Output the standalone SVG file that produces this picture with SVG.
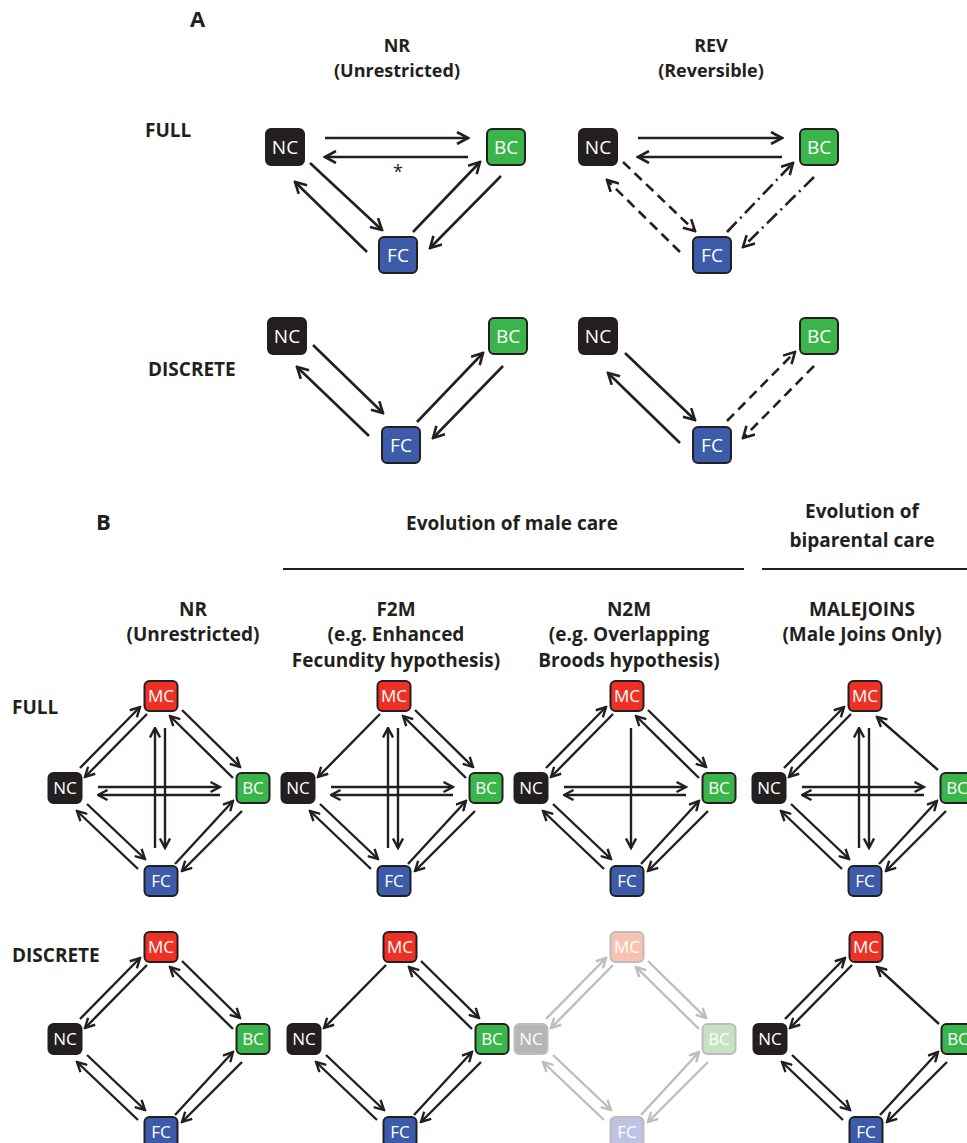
<svg xmlns="http://www.w3.org/2000/svg" width="967" height="1143" viewBox="0 0 967 1143">
<style>
.t{font-family:"Open Sans","Liberation Sans",sans-serif;font-weight:bold;font-size:19px;fill:#231f20}
.ta{font-size:18px}
.tc{text-anchor:middle}
.lbl{font-family:"Open Sans","Liberation Sans",sans-serif;fill:#fff;text-anchor:middle}
.la{font-size:19px}
.lb{font-size:17px}
.box{stroke:#231f20;stroke-width:2}
.fade{stroke:#bdbdbd;stroke-width:2}
.nc{fill:#231f20}.bc{fill:#3ab54a}.fc{fill:#3c5ba9}.mc{fill:#ee3124}
.ncf{fill:#b5b5b5}.bcf{fill:#c6e2c0}.fcf{fill:#bec3e4}.mcf{fill:#f8c2b0}
.ea{stroke:#231f20;stroke-width:2.6;fill:none;marker-end:url(#ahA)}
.eb{stroke:#231f20;stroke-width:2.4;fill:none;marker-end:url(#ahB)}
.eg{stroke:#bdbdbd;stroke-width:2.4;fill:none;marker-end:url(#ahG)}
.dash{stroke-dasharray:10 6}
.dd{stroke-dasharray:14 5 2 5}
.rule{stroke:#231f20;stroke-width:2}
</style>
<defs>
<marker id="ahA" viewBox="0 0 14 14" refX="12" refY="7" markerWidth="14" markerHeight="14" markerUnits="userSpaceOnUse" orient="auto"><path d="M1,1 L12,7 L1,13" fill="none" stroke="#231f20" stroke-width="2.6"/></marker>
<marker id="ahB" viewBox="0 0 12 12" refX="10.5" refY="6" markerWidth="12" markerHeight="12" markerUnits="userSpaceOnUse" orient="auto"><path d="M1,1 L10.5,6 L1,11" fill="none" stroke="#231f20" stroke-width="2.4"/></marker>
<marker id="ahG" viewBox="0 0 12 12" refX="10.5" refY="6" markerWidth="12" markerHeight="12" markerUnits="userSpaceOnUse" orient="auto"><path d="M1,1 L10.5,6 L1,11" fill="none" stroke="#bdbdbd" stroke-width="2.4"/></marker>
</defs>
<rect width="967" height="1143" fill="#fff"/>

<!-- Panel A labels -->
<text class="t" x="190" y="27" style="font-size:22px">A</text>
<text class="t ta tc" x="397" y="52">NR</text>
<text class="t ta tc" x="397" y="77">(Unrestricted)</text>
<text class="t ta tc" x="711" y="52">REV</text>
<text class="t ta tc" x="711" y="77">(Reversible)</text>
<text class="t" x="145" y="137">FULL</text>
<text class="t" x="148" y="376">DISCRETE</text>

<!-- Panel A connectors -->
<g id="A-connectors">
<line class="ea" x1="325" y1="138" x2="468" y2="138"/>
<line class="ea" x1="468" y1="157" x2="325" y2="157"/>
<line class="ea" x1="310" y1="163" x2="382" y2="230"/>
<line class="ea" x1="367" y1="252" x2="295" y2="182"/>
<line class="ea" x1="413" y1="232" x2="480" y2="162"/>
<line class="ea" x1="501" y1="176" x2="430" y2="248"/>

<line class="ea" x1="638" y1="138" x2="782" y2="138"/>
<line class="ea" x1="782" y1="157" x2="638" y2="157"/>
<line class="ea dash" x1="623" y1="162" x2="695" y2="231"/>
<line class="ea dash" x1="680" y1="252" x2="607" y2="180"/>
<line class="ea dd" x1="727" y1="232" x2="793" y2="163"/>
<line class="ea dd" x1="814" y1="177" x2="743" y2="247"/>

<line class="ea" x1="313" y1="345" x2="383" y2="413"/>
<line class="ea" x1="369" y1="436" x2="297" y2="367"/>
<line class="ea" x1="417" y1="422" x2="483" y2="353"/>
<line class="ea" x1="503" y1="366" x2="433" y2="438"/>

<line class="ea" x1="625" y1="353" x2="695" y2="420"/>
<line class="ea" x1="680" y1="443" x2="608" y2="373"/>
<line class="ea dash" x1="727" y1="421" x2="795" y2="352"/>
<line class="ea dash" x1="814" y1="366" x2="743" y2="438"/>
</g>
<text class="t tc" x="398" y="178" style="font-weight:normal;font-size:18px">*</text>

<!-- Panel A nodes -->
<g id="A-NR-full-NC"><rect class="box nc" x="266" y="129" width="38" height="36" rx="5"/><text class="lbl la" x="285" y="154">NC</text></g>
<g id="A-NR-full-BC"><rect class="box bc" x="487" y="129" width="38" height="36" rx="5"/><text class="lbl la" x="506" y="154">BC</text></g>
<g id="A-NR-full-FC"><rect class="box fc" x="379" y="237" width="38" height="36" rx="5"/><text class="lbl la" x="398" y="262">FC</text></g>
<g id="A-REV-full-NC"><rect class="box nc" x="579" y="129" width="38" height="36" rx="5"/><text class="lbl la" x="598" y="154">NC</text></g>
<g id="A-REV-full-BC"><rect class="box bc" x="800" y="129" width="38" height="36" rx="5"/><text class="lbl la" x="819" y="154">BC</text></g>
<g id="A-REV-full-FC"><rect class="box fc" x="693" y="237" width="38" height="36" rx="5"/><text class="lbl la" x="712" y="262">FC</text></g>
<g id="A-NR-disc-NC"><rect class="box nc" x="268" y="318" width="38" height="36" rx="5"/><text class="lbl la" x="287" y="343">NC</text></g>
<g id="A-NR-disc-BC"><rect class="box bc" x="489" y="318" width="38" height="36" rx="5"/><text class="lbl la" x="508" y="343">BC</text></g>
<g id="A-NR-disc-FC"><rect class="box fc" x="382" y="427" width="38" height="36" rx="5"/><text class="lbl la" x="401" y="452">FC</text></g>
<g id="A-REV-disc-NC"><rect class="box nc" x="579" y="318" width="38" height="36" rx="5"/><text class="lbl la" x="598" y="343">NC</text></g>
<g id="A-REV-disc-BC"><rect class="box bc" x="800" y="318" width="38" height="36" rx="5"/><text class="lbl la" x="819" y="343">BC</text></g>
<g id="A-REV-disc-FC"><rect class="box fc" x="693" y="427" width="38" height="36" rx="5"/><text class="lbl la" x="712" y="452">FC</text></g>

<!-- Panel B labels -->
<text class="t" x="96" y="530" style="font-size:22px">B</text>
<text class="t tc" x="512" y="530">Evolution of male care</text>
<line class="rule" x1="283" y1="569" x2="744" y2="569"/>
<text class="t tc" x="862" y="518">Evolution of</text>
<text class="t tc" x="862" y="547">biparental care</text>
<line class="rule" x1="762" y1="569" x2="967" y2="569"/>
<text class="t tc" x="193" y="616">NR</text>
<text class="t tc" x="193" y="641">(Unrestricted)</text>
<text class="t tc" x="396" y="616">F2M</text>
<text class="t tc" x="396" y="641">(e.g. Enhanced</text>
<text class="t tc" x="396" y="667">Fecundity hypothesis)</text>
<text class="t tc" x="629" y="616">N2M</text>
<text class="t tc" x="629" y="641">(e.g. Overlapping</text>
<text class="t tc" x="629" y="667">Broods hypothesis)</text>
<text class="t tc" x="862" y="616">MALEJOINS</text>
<text class="t tc" x="862" y="641">(Male Joins Only)</text>
<text class="t" x="12" y="714">FULL</text>
<text class="t" x="12" y="962">DISCRETE</text>

<!-- B full NR -->
<g transform="translate(161,696)">
<g id="B-NR-full-connectors">
<line class="eb" x1="-81" y1="72" x2="-21" y2="11"/>
<line class="eb" x1="-14" y1="18" x2="-76" y2="81"/>
<line class="eb" x1="21" y1="14" x2="79" y2="71"/>
<line class="eb" x1="72" y1="82" x2="9" y2="20"/>
<line class="eb" x1="-63" y1="91" x2="59" y2="91"/>
<line class="eb" x1="59" y1="99" x2="-63" y2="99"/>
<line class="eb" x1="4" y1="32" x2="4" y2="152"/>
<line class="eb" x1="-6" y1="152" x2="-6" y2="32"/>
<line class="eb" x1="-74" y1="108" x2="-16" y2="163"/>
<line class="eb" x1="-23" y1="173" x2="-84" y2="115"/>
<line class="eb" x1="14" y1="168" x2="72" y2="105"/>
<line class="eb" x1="81" y1="115" x2="21" y2="175"/>
</g>
<g id="B-NR-full-MC"><rect class="box mc" x="-16.5" y="-15" width="33" height="30" rx="5"/><text class="lbl lb" x="0" y="6">MC</text></g>
<g id="B-NR-full-NC"><rect class="box nc" x="-112.5" y="77" width="33" height="30" rx="5"/><text class="lbl lb" x="-96" y="98">NC</text></g>
<g id="B-NR-full-BC"><rect class="box bc" x="75.5" y="77" width="33" height="30" rx="5"/><text class="lbl lb" x="92" y="98">BC</text></g>
<g id="B-NR-full-FC"><rect class="box fc" x="-16.5" y="170" width="33" height="30" rx="5"/><text class="lbl lb" x="0" y="191">FC</text></g>
</g>

<!-- B full F2M -->
<g transform="translate(394,696)">
<g id="B-F2M-full-connectors">
<line class="eb" x1="-14" y1="18" x2="-76" y2="81"/>
<line class="eb" x1="21" y1="14" x2="79" y2="71"/>
<line class="eb" x1="72" y1="82" x2="9" y2="20"/>
<line class="eb" x1="-63" y1="91" x2="59" y2="91"/>
<line class="eb" x1="59" y1="99" x2="-63" y2="99"/>
<line class="eb" x1="4" y1="32" x2="4" y2="152"/>
<line class="eb" x1="-6" y1="152" x2="-6" y2="32"/>
<line class="eb" x1="-74" y1="108" x2="-16" y2="163"/>
<line class="eb" x1="-23" y1="173" x2="-84" y2="115"/>
<line class="eb" x1="14" y1="168" x2="72" y2="105"/>
<line class="eb" x1="81" y1="115" x2="21" y2="175"/>
</g>
<g id="B-F2M-full-MC"><rect class="box mc" x="-16.5" y="-15" width="33" height="30" rx="5"/><text class="lbl lb" x="0" y="6">MC</text></g>
<g id="B-F2M-full-NC"><rect class="box nc" x="-112.5" y="77" width="33" height="30" rx="5"/><text class="lbl lb" x="-96" y="98">NC</text></g>
<g id="B-F2M-full-BC"><rect class="box bc" x="75.5" y="77" width="33" height="30" rx="5"/><text class="lbl lb" x="92" y="98">BC</text></g>
<g id="B-F2M-full-FC"><rect class="box fc" x="-16.5" y="170" width="33" height="30" rx="5"/><text class="lbl lb" x="0" y="191">FC</text></g>
</g>

<!-- B full N2M -->
<g transform="translate(627,696)">
<g id="B-N2M-full-connectors">
<line class="eb" x1="-81" y1="72" x2="-21" y2="11"/>
<line class="eb" x1="-14" y1="18" x2="-76" y2="81"/>
<line class="eb" x1="21" y1="14" x2="79" y2="71"/>
<line class="eb" x1="72" y1="82" x2="9" y2="20"/>
<line class="eb" x1="-63" y1="91" x2="59" y2="91"/>
<line class="eb" x1="59" y1="99" x2="-63" y2="99"/>
<line class="eb" x1="4" y1="32" x2="4" y2="152"/>
<line class="eb" x1="-74" y1="108" x2="-16" y2="163"/>
<line class="eb" x1="-23" y1="173" x2="-84" y2="115"/>
<line class="eb" x1="14" y1="168" x2="72" y2="105"/>
<line class="eb" x1="81" y1="115" x2="21" y2="175"/>
</g>
<g id="B-N2M-full-MC"><rect class="box mc" x="-16.5" y="-15" width="33" height="30" rx="5"/><text class="lbl lb" x="0" y="6">MC</text></g>
<g id="B-N2M-full-NC"><rect class="box nc" x="-112.5" y="77" width="33" height="30" rx="5"/><text class="lbl lb" x="-96" y="98">NC</text></g>
<g id="B-N2M-full-BC"><rect class="box bc" x="75.5" y="77" width="33" height="30" rx="5"/><text class="lbl lb" x="92" y="98">BC</text></g>
<g id="B-N2M-full-FC"><rect class="box fc" x="-16.5" y="170" width="33" height="30" rx="5"/><text class="lbl lb" x="0" y="191">FC</text></g>
</g>

<!-- B full MALEJOINS -->
<g transform="translate(865,696)">
<g id="B-MJ-full-connectors">
<line class="eb" x1="-81" y1="72" x2="-21" y2="11"/>
<line class="eb" x1="-14" y1="18" x2="-76" y2="81"/>
<line class="eb" x1="73" y1="74" x2="12" y2="21"/>
<line class="eb" x1="-63" y1="91" x2="59" y2="91"/>
<line class="eb" x1="59" y1="99" x2="-63" y2="99"/>
<line class="eb" x1="4" y1="32" x2="4" y2="152"/>
<line class="eb" x1="-6" y1="152" x2="-6" y2="32"/>
<line class="eb" x1="-74" y1="108" x2="-16" y2="163"/>
<line class="eb" x1="-23" y1="173" x2="-84" y2="115"/>
<line class="eb" x1="14" y1="168" x2="72" y2="105"/>
<line class="eb" x1="81" y1="115" x2="21" y2="175"/>
</g>
<g id="B-MJ-full-MC"><rect class="box mc" x="-16.5" y="-15" width="33" height="30" rx="5"/><text class="lbl lb" x="0" y="6">MC</text></g>
<g id="B-MJ-full-NC"><rect class="box nc" x="-112.5" y="77" width="33" height="30" rx="5"/><text class="lbl lb" x="-96" y="98">NC</text></g>
<g id="B-MJ-full-BC"><rect class="box bc" x="75.5" y="77" width="33" height="30" rx="5"/><text class="lbl lb" x="92" y="98">BC</text></g>
<g id="B-MJ-full-FC"><rect class="box fc" x="-16.5" y="170" width="33" height="30" rx="5"/><text class="lbl lb" x="0" y="191">FC</text></g>
</g>

<!-- B discrete NR -->
<g transform="translate(161,947)">
<g id="B-NR-disc-connectors">
<line class="eb" x1="-81" y1="72" x2="-21" y2="11"/>
<line class="eb" x1="-14" y1="18" x2="-76" y2="81"/>
<line class="eb" x1="21" y1="14" x2="79" y2="71"/>
<line class="eb" x1="72" y1="82" x2="9" y2="20"/>
<line class="eb" x1="-74" y1="108" x2="-16" y2="163"/>
<line class="eb" x1="-23" y1="173" x2="-84" y2="115"/>
<line class="eb" x1="14" y1="168" x2="72" y2="105"/>
<line class="eb" x1="81" y1="115" x2="21" y2="175"/>
</g>
<g id="B-NR-disc-MC"><rect class="box mc" x="-16.5" y="-15" width="33" height="30" rx="5"/><text class="lbl lb" x="0" y="6">MC</text></g>
<g id="B-NR-disc-NC"><rect class="box nc" x="-112.5" y="77" width="33" height="30" rx="5"/><text class="lbl lb" x="-96" y="98">NC</text></g>
<g id="B-NR-disc-BC"><rect class="box bc" x="75.5" y="77" width="33" height="30" rx="5"/><text class="lbl lb" x="92" y="98">BC</text></g>
<g id="B-NR-disc-FC"><rect class="box fc" x="-16.5" y="170" width="33" height="30" rx="5"/><text class="lbl lb" x="0" y="191">FC</text></g>
</g>

<!-- B discrete F2M -->
<g transform="translate(400,947)">
<g id="B-F2M-disc-connectors">
<line class="eb" x1="-14" y1="18" x2="-76" y2="81"/>
<line class="eb" x1="21" y1="14" x2="79" y2="71"/>
<line class="eb" x1="72" y1="82" x2="9" y2="20"/>
<line class="eb" x1="-74" y1="108" x2="-16" y2="163"/>
<line class="eb" x1="-23" y1="173" x2="-84" y2="115"/>
<line class="eb" x1="14" y1="168" x2="72" y2="105"/>
<line class="eb" x1="81" y1="115" x2="21" y2="175"/>
</g>
<g id="B-F2M-disc-MC"><rect class="box mc" x="-16.5" y="-15" width="33" height="30" rx="5"/><text class="lbl lb" x="0" y="6">MC</text></g>
<g id="B-F2M-disc-NC"><rect class="box nc" x="-112.5" y="77" width="33" height="30" rx="5"/><text class="lbl lb" x="-96" y="98">NC</text></g>
<g id="B-F2M-disc-BC"><rect class="box bc" x="75.5" y="77" width="33" height="30" rx="5"/><text class="lbl lb" x="92" y="98">BC</text></g>
<g id="B-F2M-disc-FC"><rect class="box fc" x="-16.5" y="170" width="33" height="30" rx="5"/><text class="lbl lb" x="0" y="191">FC</text></g>
</g>

<!-- B discrete N2M (faded) -->
<g transform="translate(627,947)">
<g id="B-N2M-disc-connectors">
<line class="eg" x1="-81" y1="72" x2="-21" y2="11"/>
<line class="eg" x1="-14" y1="18" x2="-76" y2="81"/>
<line class="eg" x1="21" y1="14" x2="79" y2="71"/>
<line class="eg" x1="72" y1="82" x2="9" y2="20"/>
<line class="eg" x1="-74" y1="108" x2="-16" y2="163"/>
<line class="eg" x1="-23" y1="173" x2="-84" y2="115"/>
<line class="eg" x1="14" y1="168" x2="72" y2="105"/>
<line class="eg" x1="81" y1="115" x2="21" y2="175"/>
</g>
<g id="B-N2M-disc-MC"><rect class="fade mcf" x="-16.5" y="-15" width="33" height="30" rx="5"/><text class="lbl lb" x="0" y="6">MC</text></g>
<g id="B-N2M-disc-NC"><rect class="fade ncf" x="-112.5" y="77" width="33" height="30" rx="5"/><text class="lbl lb" x="-96" y="98">NC</text></g>
<g id="B-N2M-disc-BC"><rect class="fade bcf" x="75.5" y="77" width="33" height="30" rx="5"/><text class="lbl lb" x="92" y="98">BC</text></g>
<g id="B-N2M-disc-FC"><rect class="fade fcf" x="-16.5" y="170" width="33" height="30" rx="5"/><text class="lbl lb" x="0" y="191">FC</text></g>
</g>

<!-- B discrete MALEJOINS -->
<g transform="translate(866,947)">
<g id="B-MJ-disc-connectors">
<line class="eb" x1="-81" y1="72" x2="-21" y2="11"/>
<line class="eb" x1="-14" y1="18" x2="-76" y2="81"/>
<line class="eb" x1="73" y1="77" x2="11" y2="20"/>
<line class="eb" x1="-74" y1="108" x2="-16" y2="163"/>
<line class="eb" x1="-23" y1="173" x2="-84" y2="115"/>
<line class="eb" x1="14" y1="168" x2="72" y2="105"/>
<line class="eb" x1="81" y1="115" x2="21" y2="175"/>
</g>
<g id="B-MJ-disc-MC"><rect class="box mc" x="-16.5" y="-15" width="33" height="30" rx="5"/><text class="lbl lb" x="0" y="6">MC</text></g>
<g id="B-MJ-disc-NC"><rect class="box nc" x="-112.5" y="77" width="33" height="30" rx="5"/><text class="lbl lb" x="-96" y="98">NC</text></g>
<g id="B-MJ-disc-BC"><rect class="box bc" x="75.5" y="77" width="33" height="30" rx="5"/><text class="lbl lb" x="92" y="98">BC</text></g>
<g id="B-MJ-disc-FC"><rect class="box fc" x="-16.5" y="170" width="33" height="30" rx="5"/><text class="lbl lb" x="0" y="191">FC</text></g>
</g>
</svg>
